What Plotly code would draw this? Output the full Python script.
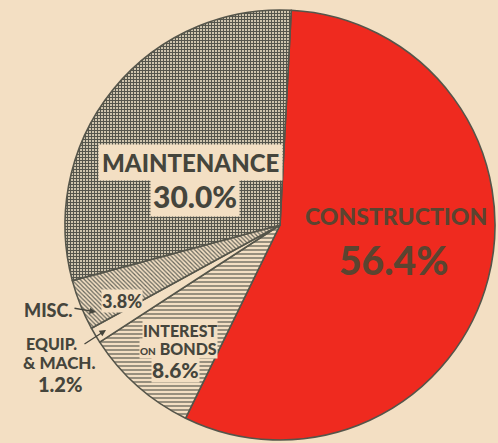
import plotly.graph_objects as go

# Data (clockwise from just right of 12 o'clock)
categories = ["CONSTRUCTION", "INTEREST ON BONDS", "EQUIP. & MACH.", "MISC.", "MAINTENANCE"]
values = [56.4, 8.6, 1.2, 3.8, 30.0]
pct_labels = ["56.4%", "8.6%", "1.2%", "3.8%", "30.0%"]

CREAM = "#f3dfc3"
INK = "#45453c"
RED = "#ef2a1f"

fig = go.Figure(go.Pie(
    labels=categories,
    values=values,
    sort=False,
    direction="clockwise",
    rotation=3,
    textinfo="none",
    hoverinfo="label+value",
    marker=dict(
        colors=[RED, CREAM, CREAM, CREAM, CREAM],
        line=dict(color="#55554a", width=1.6),
        pattern=dict(
            shape=["", "-", "", "\\", "+"],
            bgcolor=[RED, CREAM, CREAM, CREAM, "#d6cbb3"],
            fgcolor=[RED, "#5a5a50", CREAM, "#66665c", "#55554c"],
            size=[4, 4, 4, 3, 3],
            solidity=[0.2, 0.3, 0.2, 0.4, 0.6],
        ),
    ),
    domain=dict(x=[65/498, 495/498], y=[1-440/443, 1-10/443]),
    showlegend=False,
))

FONT = "Lato, Roboto, sans-serif"

def px(x, y):
    return x/498, 1 - y/443

anns = []
def add(text, x, y, size, color=INK, bg=None, pad=1):
    xx, yy = px(x, y)
    d = dict(text=text, x=xx, y=yy, xref="paper", yref="paper", showarrow=False,
             font=dict(family=FONT, size=size, color=color, weight=900),
             xanchor="center", yanchor="middle", borderpad=pad)
    if bg:
        d["bgcolor"] = bg
    anns.append(d)

add(categories[4], 190, 162, 24, bg=CREAM, pad=3)
add(pct_labels[4], 195, 196, 30, bg=CREAM, pad=2)
add(categories[0], 396, 216, 23, color="#5b4430")
add(pct_labels[0], 393, 260, 39, color="#5b4430")
add(pct_labels[3], 122, 301, 18, bg=CREAM, pad=0)
add(categories[3], 48, 310, 18)
add("EQUIP.", 51, 343, 16)
add("&amp; MACH.", 59, 362, 17)
add(pct_labels[2], 60, 384, 20)
add("INTEREST", 180, 330, 16, bg=CREAM, pad=0)
add("<span style='font-size:10px'>ON</span> BONDS", 178, 348, 16, bg=CREAM, pad=0)
add(pct_labels[1], 175, 369, 21, bg=CREAM, pad=0)

# arrows
for (x0, y0, x1, y1) in [(73, 308, 96, 312), (83, 345, 106, 330)]:
    a1 = px(x1, y1)
    anns.append(dict(x=a1[0], y=a1[1], ax=x0 - x1, ay=y0 - y1, xref="paper", yref="paper",
                     axref="pixel", ayref="pixel", text="", showarrow=True,
                     arrowhead=2, arrowsize=1, arrowwidth=1.3, arrowcolor=INK))

fig.update_layout(
    width=498, height=443,
    margin=dict(l=0, r=0, t=0, b=0),
    paper_bgcolor=CREAM,
    plot_bgcolor=CREAM,
    annotations=anns,
)

fig.write_html("out.html", config={"displayModeBar": False},
               post_script="document.body.style.margin='0';document.body.style.overflow='hidden';")
